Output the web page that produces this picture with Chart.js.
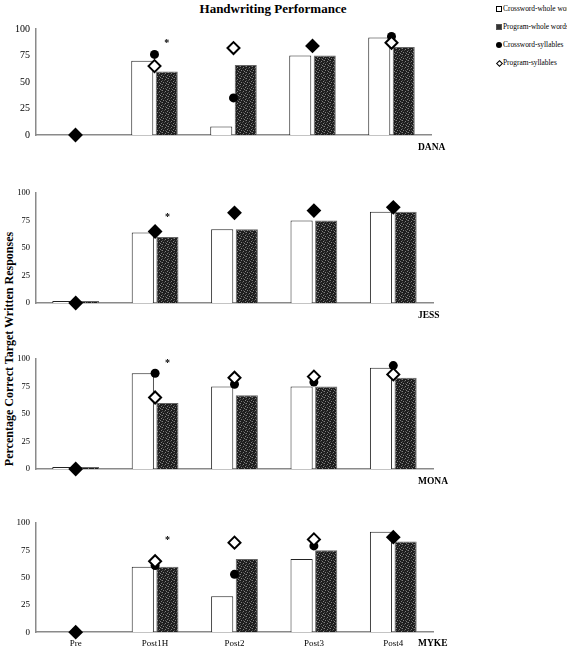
<!DOCTYPE html>
<html>
<head>
<meta charset="utf-8">
<script src="https://cdn.jsdelivr.net/npm/chart.js@4.4.1/dist/chart.umd.min.js"></script>
<style>
  body { margin: 0; background: #fff; font-family: "Liberation Serif", "Times New Roman", serif; }
  #wrap { position: relative; width: 567px; height: 646px; overflow: hidden; }
  #wrap canvas { position: absolute; left: 0; }
  #title { position: absolute; left: 0; width: 546px; top: 1px; text-align: center; font-weight: bold; font-size: 13px; }
  #ytitle { position: absolute; left: -111px; top: 342px; width: 240px; height: 14px; line-height: 14px;
            text-align: center; font-weight: bold; font-size: 12px; transform: rotate(-90deg); white-space: nowrap; }
  #legend { position: absolute; left: 496px; top: 4px; font-size: 7.4px; color: #000; }
  #legend div { height: 18px; line-height: 10px; white-space: nowrap; }
  .mk { display: inline-block; width: 6px; height: 6px; margin-right: 1px; vertical-align: -0.5px; box-sizing: border-box; }
  .mk.sq { border: 1px solid #000; background: #fff; }
  .mk.dot { border: 1px solid #555; background: #333; }
  .mk.circ { width: 6px; height: 6px; border-radius: 50%; background: #000; }
  .mk.dia { width: 5px; height: 5px; border: 1.5px solid #000; background: #fff; transform: rotate(45deg); margin-left: 1px; margin-right: 1px; }
</style>
</head>
<body>
<div id="wrap">
  <div id="title">Handwriting Performance</div>
  <div id="legend"></div>
  <div id="ytitle">Percentage Correct Target Written Responses</div>
  <canvas id="c0" width="567" height="160" style="top:0px"></canvas>
  <canvas id="c1" width="567" height="165" style="top:160px"></canvas>
  <canvas id="c2" width="567" height="165" style="top:325px"></canvas>
  <canvas id="c3" width="567" height="166" style="top:490px"></canvas>
</div>
<script>
// ---------- data ----------
const categories = ['Pre', 'Post1H', 'Post2', 'Post3', 'Post4'];
const seriesNames = ['Crossword-whole words', 'Program-whole words', 'Crossword-syllables', 'Program-syllables'];
const participants = ['DANA', 'JESS', 'MONA', 'MYKE'];

const danaCrosswordWords = [null, 70, 8, 75, 92];
const danaProgramWords   = [null, 60, 66, 75, 83];
const danaCrosswordSyll  = [0, 76, 35, 84, 93];
const danaProgramSyll    = [0, 65, 82, 84, 87];

const jessCrosswordWords = [0, 64, 67, 75, 83];
const jessProgramWords   = [0, 60, 67, 75, 83];
const jessCrosswordSyll  = [0, 65, 82, 84, 87];
const jessProgramSyll    = [0, 65, 82, 84, 87];

const monaCrosswordWords = [0, 87, 75, 75, 92];
const monaProgramWords   = [0, 60, 67, 75, 83];
const monaCrosswordSyll  = [0, 87, 77, 79, 94];
const monaProgramSyll    = [0, 65, 83, 84, 86];

const mykeCrosswordWords = [null, 60, 33, 67, 92];
const mykeProgramWords   = [null, 60, 67, 75, 83];
const mykeCrosswordSyll  = [0, 61, 53, 79, 87];
const mykeProgramSyll    = [0, 65, 82, 85, 87];

// "*" marks above the Post1H program bar (value on the y scale)
const asteriskValues = [88, 80, 98, 86];

const yTicks = [0, 25, 50, 75, 100];

const panelData = [
  [danaCrosswordWords, danaProgramWords, danaCrosswordSyll, danaProgramSyll],
  [jessCrosswordWords, jessProgramWords, jessCrosswordSyll, jessProgramSyll],
  [monaCrosswordWords, monaProgramWords, monaCrosswordSyll, monaProgramSyll],
  [mykeCrosswordWords, mykeProgramWords, mykeCrosswordSyll, mykeProgramSyll]
];

// ---------- legend ----------
const markerClass = ['sq', 'dot', 'circ', 'dia'];
document.getElementById('legend').innerHTML = seriesNames
  .map((n, i) => `<div><span class="mk ${markerClass[i]}"></span>${n}</div>`).join('');

// speckled fill for the program bars
function makeDotPattern() {
  const c = document.createElement('canvas');
  c.width = 6; c.height = 6;
  const g = c.getContext('2d');
  g.fillStyle = '#1e1e1e';
  g.fillRect(0, 0, 6, 6);
  g.fillStyle = '#808080';
  [[0, 0], [3, 1], [5, 3], [1, 4], [4, 5]].forEach(p => g.fillRect(p[0], p[1], 1, 1));
  g.fillStyle = '#4c4c4c';
  [[2, 2], [5, 0], [0, 2], [3, 4]].forEach(p => g.fillRect(p[0], p[1], 1, 1));
  return g.createPattern(c, 'repeat');
}
const dotPattern = makeDotPattern();

// participant name + asterisk
const panelTextPlugin = {
  id: 'panelText',
  afterDraw(chart) {
    const idx = chart.options.plugins.panelText.index;
    const ctx = chart.ctx;
    const area = chart.chartArea;
    ctx.save();
    ctx.fillStyle = '#000';
    ctx.font = 'bold 9.5px "Liberation Serif"';
    ctx.textAlign = 'left';
    ctx.textBaseline = 'middle';
    ctx.fillText(participants[idx], 418, area.bottom + (idx === 3 ? 11 : 13));
    const bar = chart.getDatasetMeta(1).data[1];
    ctx.font = 'bold 10px "Liberation Serif"';
    ctx.textAlign = 'center';
    ctx.fillText('*', bar.x, chart.scales.y.getPixelForValue(asteriskValues[idx]) + 2);
    ctx.restore();
  }
};

const paddings = [
  { top: 29, right: 136, bottom: 25, left: 0 },
  { top: 33, right: 134, bottom: 22, left: 0 },
  { top: 34, right: 134, bottom: 21, left: 0 },
  { top: 33, right: 134, bottom: 1, left: 0 }
];
const tickSizes = [10, 8.5, 8.5, 9];

function makeChart(idx) {
  const [cw, pw, cs, ps] = panelData[idx];
  const showX = idx === 3;
  return new Chart(document.getElementById('c' + idx), {
    type: 'bar',
    data: {
      labels: categories,
      datasets: [
        {
          label: seriesNames[0], data: cw, order: 2,
          backgroundColor: '#fff', borderColor: '#222', borderWidth: 1,
          categoryPercentage: 0.62, barPercentage: 0.9, minBarLength: 2
        },
        {
          label: seriesNames[1], data: pw, order: 2,
          backgroundColor: dotPattern, borderColor: '#666', borderWidth: 1,
          categoryPercentage: 0.62, barPercentage: 0.9, minBarLength: 2
        },
        {
          type: 'line', label: seriesNames[2], data: cs, order: 1, showLine: false, clip: false,
          pointStyle: 'circle', pointRadius: 4.5, pointBorderWidth: 0,
          pointBackgroundColor: '#000', pointBorderColor: '#000'
        },
        {
          type: 'line', label: seriesNames[3], data: ps, order: 0, showLine: false, clip: false,
          pointStyle: 'rectRot', pointRadius: 6, pointBorderWidth: 2, pointBorderColor: '#000',
          // same score as crossword-syllables -> markers merge into a solid diamond
          pointBackgroundColor: c => (cs[c.dataIndex] === ps[c.dataIndex] ? '#000' : '#fff')
        }
      ]
    },
    options: {
      responsive: false,
      animation: false,
      layout: { padding: paddings[idx] },
      plugins: {
        legend: { display: false },
        tooltip: { enabled: false },
        panelText: { index: idx }
      },
      scales: {
        x: {
          grid: { display: false, drawTicks: false },
          border: { color: '#8a8a8a', width: 1.5 },
          ticks: { display: showX, color: '#000', padding: 6, font: { family: 'Liberation Serif', size: 9 } }
        },
        y: {
          min: 0, max: 100,
          afterBuildTicks: s => { s.ticks = yTicks.map(v => ({ value: v })); },
          afterFit: s => { s.width = 36; },
          grid: { display: false, drawTicks: false },
          border: { color: '#8a8a8a', width: 1.5 },
          ticks: { color: '#000', padding: 6, font: { family: 'Liberation Serif', size: tickSizes[idx] } }
        }
      }
    },
    plugins: [panelTextPlugin]
  });
}

participants.forEach((p, i) => makeChart(i));
</script>
</body>
</html>
